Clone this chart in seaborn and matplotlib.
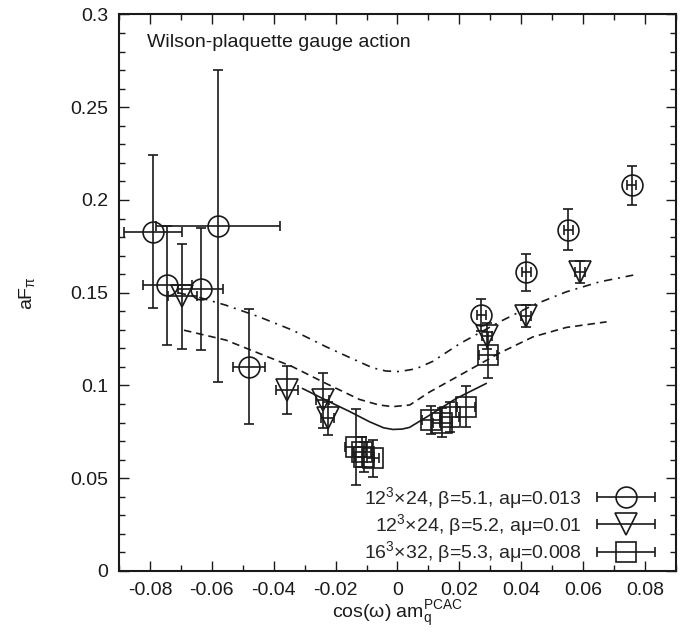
"""aF_pi vs cos(w) am_q^PCAC (Wilson-plaquette gauge action)."""

import matplotlib
matplotlib.use("Agg")
import matplotlib.pyplot as plt
import numpy as np
import pandas as pd
import seaborn as sns
from matplotlib.container import ErrorbarContainer
from matplotlib.legend_handler import HandlerErrorbar
from matplotlib.ticker import MultipleLocator

# --- data ------------------------------------------------------------------
# 12^3x24, beta=5.1, amu=0.013 (circles)
b51_x = [-0.0789, -0.0579, -0.0744, -0.0636, -0.0479, 0.0271, 0.0417, 0.0552, 0.0757]
b51_y = [0.183, 0.186, 0.154, 0.152, 0.110, 0.138, 0.161, 0.184, 0.208]
b51_xerr = [0.0094, 0.020, 0.008, 0.0073, 0.0051, 0.0015, 0.0015, 0.0015, 0.0015]
b51_yerr = [0.041, 0.084, 0.032, 0.033, 0.031, 0.0087, 0.010, 0.011, 0.0105]

# 12^3x24, beta=5.2, amu=0.01 (triangles)
b52_x = [-0.0695, -0.0357, -0.0242, -0.0226, 0.0289, 0.0415, 0.059]
b52_y = [0.148, 0.0975, 0.092, 0.0823, 0.1265, 0.1375, 0.161]
b52_xerr = [0.0046, 0.0036, 0.002, 0.002, 0.0015, 0.0015, 0.0015]
b52_yerr = [0.0285, 0.013, 0.015, 0.009, 0.007, 0.006, 0.006]

# 16^3x32, beta=5.3, amu=0.008 (squares)
b53_x = [-0.0134, -0.0114, -0.0107, -0.008, 0.0109, 0.0145, 0.017, 0.0222, 0.0293]
b53_y = [0.067, 0.0643, 0.0616, 0.0607, 0.0814, 0.080, 0.083, 0.0885, 0.1164]
b53_xerr = [0.0035, 0.003, 0.003, 0.002, 0.003, 0.003, 0.003, 0.003, 0.003]
b53_yerr = [0.0205, 0.008, 0.008, 0.010, 0.0076, 0.008, 0.008, 0.011, 0.0125]

# fit curves
dashdot_x = [-0.071, -0.0647, -0.0555, -0.0447, -0.0339, -0.0231, -0.016, -0.008,
             -0.0037, 0.0006, 0.006, 0.0114, 0.0201, 0.033, 0.0438, 0.0546, 0.0654, 0.0762]
dashdot_y = [0.150, 0.1478, 0.1433, 0.137, 0.1298, 0.1209, 0.1155, 0.1095,
             0.1078, 0.1075, 0.109, 0.113, 0.1225, 0.1343, 0.1433, 0.1505, 0.1559, 0.1595]
dashed_x = [-0.069, -0.0555, -0.0447, -0.0339, -0.0231, -0.0123, -0.006, -0.0015,
            0.004, 0.0104, 0.0212, 0.033, 0.0438, 0.0546, 0.0676]
dashed_y = [0.1298, 0.1245, 0.1173, 0.1101, 0.1011, 0.0925, 0.0895, 0.0886,
            0.0895, 0.0965, 0.1065, 0.1175, 0.1262, 0.1313, 0.1343]
solid_x = [-0.0307, -0.022, -0.0155, -0.0091, -0.0045, -0.0015, 0.0015, 0.0039,
           0.0104, 0.019, 0.0287]
solid_y = [0.0984, 0.0912, 0.086, 0.0805, 0.0772, 0.0763, 0.0765, 0.0774,
           0.084, 0.093, 0.1011]

labels = [
    r"$\mathregular{12^3}$$\times$24, β=5.1, aμ=0.013",
    r"$\mathregular{12^3}$$\times$24, β=5.2, aμ=0.01",
    r"$\mathregular{16^3}$$\times$32, β=5.3, aμ=0.008",
]

sns.set_theme(style="ticks")
plt.rcParams["font.family"] = ["Liberation Sans", "DejaVu Sans"]
plt.rcParams["mathtext.fontset"] = "custom"
plt.rcParams["mathtext.rm"] = "Liberation Sans"
plt.rcParams["mathtext.it"] = "Liberation Sans:italic"

INK = "#1a1a1a"
FS = 14

fig = plt.figure(figsize=(6.8, 6.35), dpi=100)
ax = fig.add_axes([0.175, 0.1008, 0.819, 0.8764])

curves = [
    (dashdot_x, dashdot_y, (0, (5, 3.5, 1.2, 3.5))),
    (dashed_x, dashed_y, (0, (4.5, 3))),
    (solid_x, solid_y, "-"),
]
for cx, cy, ls in curves:
    df = pd.DataFrame({"x": cx, "y": cy})
    sns.lineplot(data=df, x="x", y="y", sort=False, estimator=None, color=INK,
                 lw=1.2, linestyle=ls, ax=ax)

series = [
    (b51_x, b51_y, b51_xerr, b51_yerr, "o", 15),
    (b52_x, b52_y, b52_xerr, b52_yerr, "v", 16),
    (b53_x, b53_y, b53_xerr, b53_yerr, "s", 14),
]
err_kw = dict(color=INK, mfc="none", mec=INK, mew=1.2, elinewidth=1.2,
              capsize=3.5, capthick=1.2, ls="none")
proxies = []
for (sx, sy, sxe, sye, mk, ms), lab in zip(series, labels):
    ax.errorbar(sx, sy, xerr=sxe, yerr=sye, marker=mk, ms=ms, **err_kw)
    proxies.append(ax.errorbar([np.nan], [np.nan], xerr=[0.01], marker=mk, ms=ms,
                               label=lab, **err_kw))

ax.set_xlim(-0.09, 0.09)
ax.set_ylim(0, 0.3)
ax.xaxis.set_major_locator(MultipleLocator(0.02))
ax.xaxis.set_minor_locator(MultipleLocator(0.01))
ax.yaxis.set_major_locator(MultipleLocator(0.05))
ax.yaxis.set_minor_locator(MultipleLocator(0.01))
ax.set_xticklabels([f"{v:g}" for v in ax.get_xticks()])
ax.set_yticklabels([f"{v:g}" for v in ax.get_yticks()])
ax.tick_params(which="both", direction="in", top=True, right=True, colors=INK,
               labelsize=FS, width=1.0)
ax.tick_params(which="major", length=7, pad=8)
ax.tick_params(which="minor", length=4)
for sp in ax.spines.values():
    sp.set_linewidth(1.5)
    sp.set_color(INK)

ax.set_xlabel(r"cos(ω) am$_\mathregular{q}^\mathregular{PCAC}$", fontsize=FS,
              color=INK, labelpad=0)
ax.set_ylabel(r"aF$_\mathregular{\pi}$", fontsize=FS, color=INK, labelpad=24)
ax.text(0.05, 0.95, "Wilson-plaquette gauge action", transform=ax.transAxes,
        fontsize=FS, color=INK, ha="left", va="center")

ax.legend(handles=proxies, loc="lower right", bbox_to_anchor=(0.977, -0.004),
          frameon=False, markerfirst=False, fontsize=FS, handlelength=3.0,
          labelspacing=0.08, handletextpad=0.8, borderaxespad=0.0,
          handler_map={ErrorbarContainer: HandlerErrorbar(xerr_size=1.5)})

fig.savefig("out.png", dpi=100)
plt.close(fig)
